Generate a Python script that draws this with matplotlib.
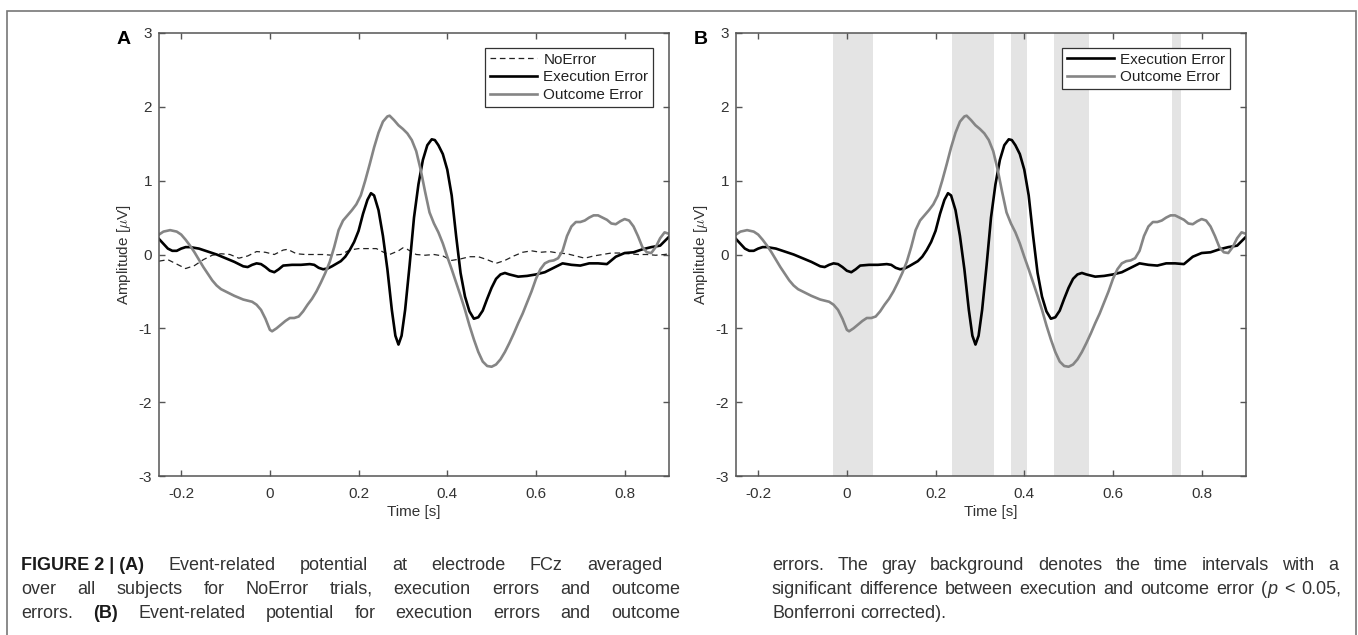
import matplotlib
matplotlib.use('Agg')
import matplotlib.pyplot as plt
from matplotlib.patches import Rectangle

plt.rcParams['font.family'] = ['Liberation Sans', 'DejaVu Sans']
plt.rcParams['axes.unicode_minus'] = False
plt.rcParams['mathtext.fontset'] = 'cm'

# ---- data ----
t_exec = [-0.25, -0.23, -0.22, -0.21, -0.2, -0.19, -0.18, -0.16, -0.14, -0.12, -0.1, -0.08,
          -0.06, -0.05, -0.04, -0.03, -0.02, -0.01, 0.0, 0.01, 0.02, 0.03, 0.05, 0.07, 0.09,
          0.1, 0.11, 0.12, 0.13, 0.14, 0.16, 0.17, 0.18, 0.19, 0.2, 0.21, 0.22, 0.228, 0.235,
          0.245, 0.255, 0.265, 0.275, 0.283, 0.29, 0.297, 0.305, 0.315, 0.325, 0.335, 0.345,
          0.355, 0.365, 0.372, 0.38, 0.39, 0.4, 0.41, 0.42, 0.43, 0.44, 0.45, 0.46, 0.47, 0.48,
          0.49, 0.5, 0.51, 0.52, 0.53, 0.54, 0.56, 0.58, 0.6, 0.62, 0.64, 0.66, 0.68, 0.7, 0.72,
          0.74, 0.76, 0.78, 0.8, 0.82, 0.84, 0.86, 0.88, 0.9]
v_exec = [0.21, 0.08, 0.05, 0.05, 0.08, 0.1, 0.1, 0.08, 0.04, 0.0, -0.05, -0.1,
          -0.16, -0.17, -0.14, -0.12, -0.13, -0.17, -0.22, -0.24, -0.2, -0.15, -0.14, -0.14, -0.13,
          -0.14, -0.18, -0.2, -0.19, -0.16, -0.09, -0.03, 0.06, 0.17, 0.32, 0.55, 0.74, 0.83, 0.8,
          0.6, 0.25, -0.2, -0.75, -1.1, -1.22, -1.1, -0.75, -0.15, 0.5, 0.95, 1.28,
          1.48, 1.56, 1.55, 1.48, 1.36, 1.15, 0.8, 0.25, -0.25, -0.57, -0.77, -0.87, -0.85, -0.76,
          -0.6, -0.45, -0.33, -0.27, -0.25, -0.27, -0.3, -0.29, -0.27, -0.24, -0.18, -0.12, -0.14, -0.15, -0.12,
          -0.12, -0.13, -0.03, 0.02, 0.03, 0.07, 0.1, 0.12, 0.24]

t_out = [-0.25, -0.24, -0.225, -0.21, -0.2, -0.19, -0.18, -0.17, -0.16, -0.15, -0.14, -0.13,
         -0.12, -0.11, -0.1, -0.08, -0.06, -0.04, -0.03, -0.02, -0.01, 0.0, 0.005, 0.015, 0.025,
         0.035, 0.045, 0.055, 0.065, 0.075, 0.085, 0.095, 0.105, 0.115, 0.125, 0.135, 0.145,
         0.155, 0.165, 0.175, 0.185, 0.195, 0.205, 0.215, 0.225, 0.235, 0.245, 0.255, 0.265,
         0.27, 0.28, 0.29, 0.3, 0.31, 0.32, 0.33, 0.34, 0.35, 0.36, 0.37, 0.38, 0.39, 0.4, 0.41,
         0.42, 0.43, 0.44, 0.45, 0.46, 0.47, 0.48, 0.49, 0.5, 0.51, 0.52, 0.53, 0.54, 0.55, 0.56,
         0.57, 0.58, 0.59, 0.6, 0.61, 0.62, 0.63, 0.64, 0.65, 0.66, 0.67, 0.68, 0.69, 0.7, 0.71,
         0.72, 0.73, 0.74, 0.75, 0.76, 0.77, 0.78, 0.79, 0.8, 0.81, 0.82, 0.83, 0.84, 0.85, 0.86,
         0.87, 0.88, 0.89, 0.9]
v_out = [0.27, 0.31, 0.33, 0.31, 0.27, 0.2, 0.12, 0.03, -0.07, -0.17, -0.26, -0.35,
         -0.42, -0.47, -0.5, -0.56, -0.61, -0.64, -0.68, -0.75, -0.87, -1.02, -1.04, -1.0, -0.95,
         -0.9, -0.86, -0.86, -0.84, -0.77, -0.68, -0.6, -0.5, -0.38, -0.25, -0.1, 0.1,
         0.33, 0.46, 0.53, 0.6, 0.68, 0.8, 1.0, 1.22, 1.45, 1.65, 1.8, 1.87,
         1.88, 1.82, 1.75, 1.7, 1.64, 1.55, 1.4, 1.15, 0.85, 0.57, 0.42, 0.3, 0.15, -0.03, -0.2,
         -0.38, -0.56, -0.75, -0.96, -1.15, -1.32, -1.45, -1.51, -1.52, -1.49, -1.42, -1.32, -1.2, -1.07, -0.93,
         -0.8, -0.65, -0.5, -0.33, -0.2, -0.12, -0.09, -0.08, -0.05, 0.05, 0.25, 0.38, 0.44, 0.44, 0.46,
         0.5, 0.53, 0.53, 0.5, 0.47, 0.42, 0.41, 0.45, 0.48, 0.46, 0.38, 0.25, 0.1, 0.03, 0.02,
         0.1, 0.22, 0.3, 0.28]

t_noerr = [-0.25, -0.23, -0.21, -0.19, -0.17, -0.15, -0.13, -0.11, -0.09, -0.07, -0.05, -0.03,
           -0.01, 0.01, 0.03, 0.04, 0.06, 0.08, 0.1, 0.12, 0.14, 0.16, 0.18, 0.2, 0.22, 0.24,
           0.26, 0.27, 0.29, 0.3, 0.31, 0.33, 0.35, 0.37, 0.39, 0.41, 0.43, 0.45, 0.47, 0.49,
           0.51, 0.53, 0.55, 0.57, 0.59, 0.61, 0.63, 0.65, 0.67, 0.69, 0.71, 0.73, 0.75, 0.77,
           0.79, 0.81, 0.83, 0.85, 0.87, 0.89, 0.9]
v_noerr = [-0.09, -0.07, -0.13, -0.19, -0.15, -0.07, -0.01, 0.01, 0.0, -0.05, -0.02, 0.04,
           0.03, 0.0, 0.06, 0.07, 0.01, 0.0, 0.0, 0.0, -0.01, 0.0, 0.06, 0.08, 0.08, 0.08,
           0.02, 0.0, 0.05, 0.09, 0.07, 0.0, -0.01, 0.0, -0.02, -0.08, -0.06, -0.03, -0.03, -0.07,
           -0.12, -0.08, -0.02, 0.03, 0.05, 0.03, 0.04, 0.02, 0.01, -0.02, -0.05, -0.02, 0.0, 0.02,
           0.02, 0.01, 0.0, 0.0, -0.01, 0.0, 0.01]

# significant intervals (s)
sig_start = [-0.032, 0.238, 0.369, 0.466, 0.734]
sig_end = [0.060, 0.331, 0.406, 0.546, 0.753]

xticks = [-0.2, 0, 0.2, 0.4, 0.6, 0.8]
xticklabels = ['-0.2', '0', '0.2', '0.4', '0.6', '0.8']
yticks = [-3, -2, -1, 0, 1, 2, 3]

W, H = 1358, 635
fig = plt.figure(figsize=(W / 100, H / 100), dpi=100)

def px_box(l, t, r, b):
    return [l / W, 1 - b / H, (r - l) / W, (b - t) / H]

axA = fig.add_axes(px_box(159, 33, 669, 476))
axB = fig.add_axes(px_box(736, 33, 1246, 476))

spine_col = '#555555'
gray = '#858585'

for ax in (axA, axB):
    ax.set_xlim(-0.25, 0.9)
    ax.set_ylim(-3, 3)
    ax.set_xticks(xticks)
    ax.set_xticklabels(xticklabels)
    ax.set_yticks(yticks)
    ax.tick_params(direction='in', top=True, right=True, length=4, width=1,
                   color=spine_col, labelsize=11, labelcolor='#333333')
    ax.tick_params(axis='x', pad=8)
    ax.tick_params(axis='y', pad=5)
    for s in ax.spines.values():
        s.set_color(spine_col)
        s.set_linewidth(1.1)
    ax.set_xlabel('Time [s]', fontsize=11, color='#333333')
    ax.set_ylabel(r'Amplitude [$\mu$V]', fontsize=11, color='#333333')
    ax.xaxis.set_label_coords(0.5, -0.066)
    ax.yaxis.set_label_coords(-0.051, 0.5)

# panel A
axA.plot(t_noerr, v_noerr, color='#222222', lw=0.9, dashes=(4.5, 3), label='NoError')
axA.plot(t_exec, v_exec, color='black', lw=1.9, label='Execution Error')
axA.plot(t_out, v_out, color=gray, lw=1.9, label='Outcome Error')

# panel B
for a, b in zip(sig_start, sig_end):
    axB.axvspan(a, b, color='#e4e4e4', lw=0, zorder=0)
axB.plot(t_exec, v_exec, color='black', lw=1.9, label='Execution Error')
axB.plot(t_out, v_out, color=gray, lw=1.9, label='Outcome Error')

leg_kw = dict(loc='upper right', fontsize=11, fancybox=False, framealpha=1,
              edgecolor='#333333', borderpad=0.3, labelspacing=0.25,
              handlelength=3.1, handletextpad=0.4, borderaxespad=0)
legA = axA.legend(bbox_to_anchor=((653 - 159) / 510, (476 - 48) / 443), **leg_kw)
legB = axB.legend(bbox_to_anchor=((1230 - 736) / 510, (476 - 48) / 443), **leg_kw)
for leg in (legA, legB):
    leg.get_frame().set_linewidth(0.9)
    for txt in leg.get_texts():
        txt.set_color('#222222')

fig.text(117 / W, 1 - 44 / H, 'A', fontsize=14, fontweight='bold', va='baseline')
fig.text(694 / W, 1 - 44 / H, 'B', fontsize=14, fontweight='bold', va='baseline')

# outer frame
fig.patches.append(Rectangle((7 / W, -0.05), (1356 - 7) / W, 1.05 - 11 / H,
                             transform=fig.transFigure, fill=False,
                             edgecolor='#777777', lw=1.2))

# ---- caption, justified ----
cap_fs = 13
cap_col = '#333333'
N = ('normal', 'normal')
BD = ('bold', 'normal')
IT = ('normal', 'italic')

def words_of(runs):
    words = [[]]
    for s, (wt, st) in runs:
        parts = s.split(' ')
        for i, p in enumerate(parts):
            if i > 0:
                words.append([])
            if p:
                words[-1].append((p.replace('~', ' '), wt, st))
    return [w for w in words if w]

renderer = fig.canvas.get_renderer()

def put_line(runs, x0, x1, y, justify=True):
    words = words_of(runs)
    arts, widths = [], []
    for word in words:
        pieces, wsum = [], 0
        for s, wt, st in word:
            t = fig.text(0, 1 - y / H, s, fontsize=cap_fs, fontweight=wt, fontstyle=st,
                         color='#1a1a1a' if wt == 'bold' else cap_col,
                         va='baseline', ha='left')
            w = t.get_window_extent(renderer).width
            pieces.append((t, w))
            wsum += w
        arts.append(pieces)
        widths.append(wsum)
    if justify and len(words) > 1:
        gap = (x1 - x0 - sum(widths)) / (len(words) - 1)
    else:
        gap = 5.0
    x = x0
    for pieces, wsum in zip(arts, widths):
        xx = x
        for t, w in pieces:
            t.set_x(xx / W)
            xx += w
        x += wsum + gap

put_line([('FIGURE~2~|~(A)', BD), (' Event-related potential at electrode FCz averaged', N)], 21, 662, 570)
put_line([('over all subjects for NoError trials, execution errors and outcome', N)], 21, 680, 594)
put_line([('errors. ', N), ('(B)', BD), (' Event-related potential for execution errors and outcome', N)], 21, 680, 618)
put_line([('errors. The gray background denotes the time intervals with a', N)], 772, 1338, 570)
put_line([('significant difference between execution and outcome error (', N), ('p', IT),
          (' < 0.05,', N)], 772, 1341, 594)
put_line([('Bonferroni corrected).', N)], 772, 1341, 618, justify=False)

fig.savefig('out.png', dpi=100)
